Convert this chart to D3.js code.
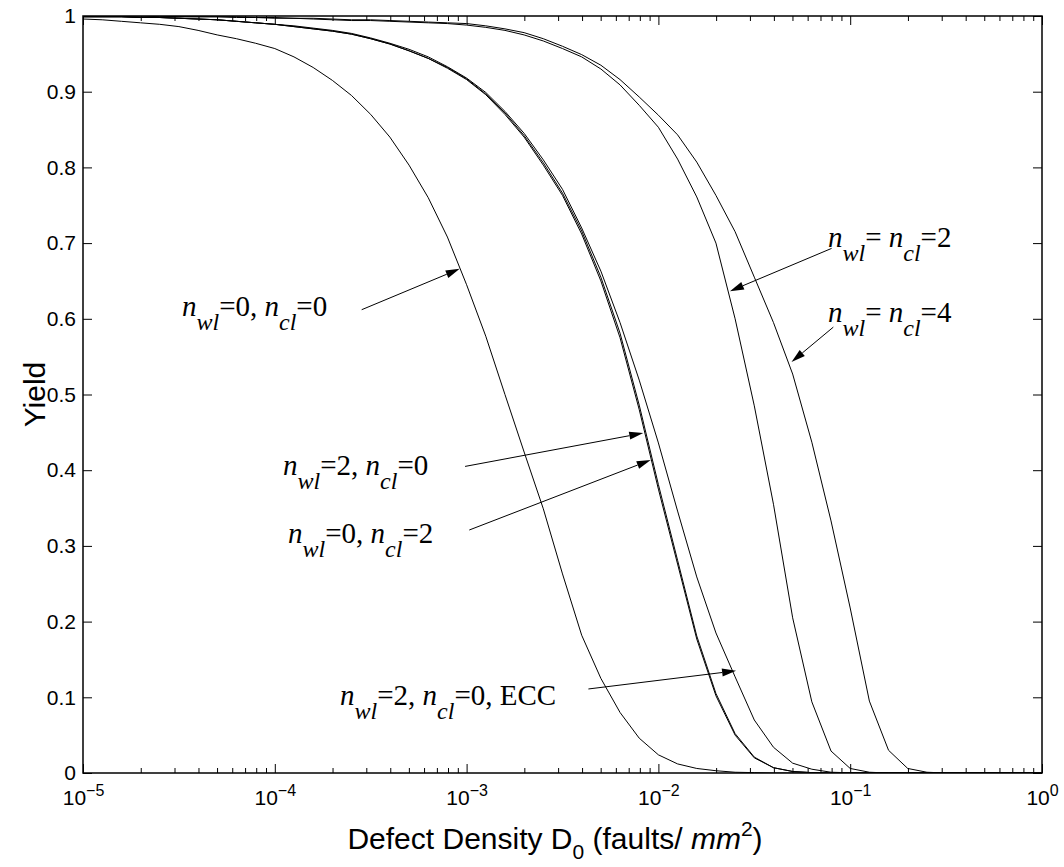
<!DOCTYPE html>
<html><head><meta charset="utf-8">
<script src="https://cdn.jsdelivr.net/npm/d3@7"></script>
<style>body{margin:0;background:#fff}svg{display:block}</style>
</head><body>
<svg id="c" width="1064" height="867"></svg>
<script>
// log10 of defect density D0 (faults/mm^2)
const logD = [-5.0,-4.9,-4.8,-4.7,-4.6,-4.5,-4.4,-4.3,-4.2,-4.1,
  -4.0,-3.9,-3.8,-3.7,-3.6,-3.5,-3.4,-3.3,-3.2,-3.1,
  -3.0,-2.9,-2.8,-2.7,-2.6,-2.5,-2.4,-2.3,-2.2,-2.1,
  -2.0,-1.9,-1.8,-1.7,-1.6,-1.5,-1.4,-1.3,-1.2,-1.1,
  -1.0,-0.9,-0.8,-0.7,-0.6,-0.5,-0.4,-0.3,-0.2,-0.1,0.0];

const yNone = [0.996,0.995,0.993,0.991,0.989,0.986,0.981,0.975,0.970,0.964,
  0.957,0.946,0.932,0.915,0.895,0.870,0.840,0.803,0.760,0.708,
  0.645,0.577,0.500,0.424,0.349,0.263,0.182,0.125,0.080,0.046,
  0.024,0.012,0.006,0.003,0.001,0.0005,0,0,0,0,
  0,0,0,0,0,0,0,0,0,0,0];

const yWl2 = [0.999,0.999,0.999,0.998,0.998,0.997,0.996,0.995,0.993,0.991,
  0.989,0.986,0.983,0.980,0.976,0.970,0.963,0.954,0.944,0.931,
  0.916,0.896,0.870,0.840,0.803,0.763,0.712,0.650,0.575,0.480,
  0.375,0.276,0.177,0.102,0.050,0.020,0.007,0.002,0.0005,0,
  0,0,0,0,0,0,0,0,0,0,0];

const yCl2 = [0.999,0.999,0.999,0.998,0.998,0.997,0.996,0.995,0.993,0.991,
  0.989,0.986,0.983,0.980,0.976,0.970,0.963,0.954,0.944,0.932,
  0.917,0.897,0.872,0.842,0.806,0.766,0.716,0.655,0.581,0.486,
  0.381,0.281,0.181,0.105,0.052,0.021,0.007,0.002,0.0005,0,
  0,0,0,0,0,0,0,0,0,0,0];

const yWl2Ecc = [0.999,0.999,0.999,0.998,0.998,0.997,0.996,0.995,0.993,0.991,
  0.989,0.987,0.984,0.981,0.977,0.971,0.964,0.956,0.946,0.933,
  0.918,0.899,0.874,0.845,0.810,0.771,0.720,0.663,0.595,0.519,
  0.436,0.346,0.259,0.185,0.127,0.070,0.034,0.013,0.005,0.001,
  0.0003,0,0,0,0,0,0,0,0,0,0];

const yBoth2 = [1.000,1.000,1.000,1.000,0.999,0.999,0.999,0.999,0.998,0.998,
  0.997,0.997,0.996,0.995,0.994,0.994,0.993,0.992,0.991,0.990,
  0.988,0.985,0.981,0.975,0.967,0.957,0.946,0.930,0.909,0.882,
  0.853,0.811,0.761,0.700,0.600,0.485,0.355,0.205,0.094,0.029,
  0.006,0.001,0,0,0,0,0,0,0,0,0];

const yBoth4 = [1.000,1.000,1.000,1.000,1.000,0.999,0.999,0.999,0.999,0.998,
  0.998,0.997,0.997,0.996,0.995,0.995,0.994,0.993,0.992,0.991,
  0.990,0.987,0.983,0.978,0.970,0.960,0.949,0.935,0.916,0.893,
  0.869,0.843,0.807,0.763,0.715,0.655,0.595,0.527,0.437,0.333,
  0.218,0.095,0.030,0.006,0.001,0,0,0,0,0,0];

const seriesList = [yNone, yWl2, yCl2, yWl2Ecc, yBoth2, yBoth4];

const xTickExp = [-5,-4,-3,-2,-1,0];
const yTicks = [0,0.1,0.2,0.3,0.4,0.5,0.6,0.7,0.8,0.9,1];

// annotations: label start (logD, yield) and arrow from -> tip (logD, yield)
const annotations = [
  {lab:[-4.484,0.604], from:[-3.547,0.612], tip:[-3.036,0.666], parts:[["n",1],["wl",1,1],["=0, "],["n",1],["cl",1,1],["=0"]]},
  {lab:[-3.957,0.394], from:[-3.008,0.405], tip:[-2.079,0.449], parts:[["n",1],["wl",1,1],["=2, "],["n",1],["cl",1,1],["=0"]]},
  {lab:[-3.931,0.304], from:[-2.986,0.321], tip:[-2.040,0.4135], parts:[["n",1],["wl",1,1],["=0, "],["n",1],["cl",1,1],["=2"]]},
  {lab:[-3.660,0.090], from:[-2.365,0.111], tip:[-1.595,0.135], parts:[["n",1],["wl",1,1],["=2, "],["n",1],["cl",1,1],["=0, ECC"]]},
  {lab:[-1.116,0.695], from:[-1.097,0.693], tip:[-1.627,0.6365], parts:[["n",1],["wl",1,1],["= "],["n",1],["cl",1,1],["=2"]]},
  {lab:[-1.116,0.596], from:[-1.088,0.589], tip:[-1.306,0.543], parts:[["n",1],["wl",1,1],["= "],["n",1],["cl",1,1],["=4"]]}
];

const L = 83, R = 1042, T = 16, B = 773;
const svg = d3.select("#c");
const x = d3.scaleLog().domain([1e-5, 1]).range([L, R]);
const y = d3.scaleLinear().domain([0, 1]).range([B, T]);
const sans = "'Liberation Sans', Arial, Helvetica, sans-serif";
const serif = "'Liberation Serif', 'Times New Roman', serif";

svg.append("defs").append("clipPath").attr("id","clip")
  .append("rect").attr("x",L).attr("y",T).attr("width",R-L).attr("height",B-T);

// curves
const line = d3.line().x((d,i)=>x(Math.pow(10, logD[i]))).y(d=>y(d));
svg.append("g").attr("clip-path","url(#clip)").selectAll("path").data(seriesList).join("path")
  .attr("d", line).attr("fill","none").attr("stroke","#000").attr("stroke-width",1);

// axes
const majors = xTickExp.map(e=>Math.pow(10,e));
const minors = [];
xTickExp.slice(0,-1).forEach(e=>{ for(let k=2;k<=9;k++) minors.push(k*Math.pow(10,e)); });

function styleAxis(g){ g.selectAll("line").attr("stroke","#000").attr("stroke-width",1); g.select(".domain").remove(); }

const bx = svg.append("g").attr("transform",`translate(0,${B})`)
  .call(d3.axisBottom(x).tickValues(majors).tickSizeInner(-9).tickSizeOuter(0).tickPadding(12).tickFormat(()=>""));
styleAxis(bx);
bx.selectAll(".tick text").each(function(d){
  const t = d3.select(this).attr("font-family",sans).attr("font-size",21).attr("fill","#000").attr("dy","0.95em").attr("text-anchor","middle");
  t.text(null);
  t.append("tspan").text("10");
  t.append("tspan").attr("font-size",16).attr("dy","-0.55em").text(Math.round(Math.log10(d))===0?"0":"\u2212"+Math.abs(Math.round(Math.log10(d))));
});
svg.append("g").attr("transform",`translate(0,${B})`)
  .call(d3.axisBottom(x).tickValues(minors).tickSizeInner(-5).tickSizeOuter(0).tickFormat(()=>"")).call(styleAxis);
svg.append("g").attr("transform",`translate(0,${T})`)
  .call(d3.axisTop(x).tickValues(majors).tickSizeInner(-9).tickSizeOuter(0).tickFormat(()=>"")).call(styleAxis);
svg.append("g").attr("transform",`translate(0,${T})`)
  .call(d3.axisTop(x).tickValues(minors).tickSizeInner(-5).tickSizeOuter(0).tickFormat(()=>"")).call(styleAxis);

const ly = svg.append("g").attr("transform",`translate(${L},0)`)
  .call(d3.axisLeft(y).tickValues(yTicks).tickSizeInner(-9).tickSizeOuter(0).tickPadding(7)
    .tickFormat(d=> d===0?"0": d===1?"1": d.toFixed(1)));
styleAxis(ly);
ly.selectAll(".tick text").attr("font-family",sans).attr("font-size",21).attr("fill","#000");
svg.append("g").attr("transform",`translate(${R},0)`)
  .call(d3.axisRight(y).tickValues(yTicks).tickSizeInner(-9).tickSizeOuter(0).tickFormat(()=>"")).call(styleAxis);

// box
svg.append("rect").attr("x",L).attr("y",T).attr("width",R-L).attr("height",B-T)
  .attr("fill","none").attr("stroke","#000").attr("stroke-width",1.5);

// axis titles
const xt = svg.append("text").attr("x",555).attr("y",849).attr("text-anchor","middle")
  .attr("font-family",sans).attr("font-size",30).attr("fill","#000").style("white-space","pre");
xt.append("tspan").text("Defect Density D");
xt.append("tspan").attr("font-size",21).attr("dy",10).text("0");
xt.append("tspan").attr("dy",-10).text(" (faults/ ");
xt.append("tspan").attr("font-style","italic").text("mm");
xt.append("tspan").attr("font-size",21).attr("dy",-13).text("2");
xt.append("tspan").attr("dy",13).text(")");

svg.append("text").attr("transform",`translate(45,${(T+B)/2}) rotate(-90)`).attr("text-anchor","middle")
  .attr("font-family",sans).attr("font-size",30).attr("fill","#000").text("Yield");

// annotations
const P = a => [x(Math.pow(10,a[0])), y(a[1])];
annotations.forEach(a=>{
  const [lx,lyv] = P(a.lab);
  const t = svg.append("text").attr("x",lx).attr("y",lyv).attr("font-family",serif)
    .attr("font-size",29).attr("fill","#000").style("white-space","pre");
  let shift = 0;
  a.parts.forEach(p=>{
    const s = t.append("tspan").text(p[0]);
    if (p[1]) s.attr("font-style","italic");
    const target = p[2] ? 14 : 0;
    if (target!==shift){ s.attr("dy", target-shift); shift = target; }
    if (p[2]) s.attr("font-size",24);
  });
  const [x1,y1] = P(a.from), [x2,y2] = P(a.tip);
  const dx = x2-x1, dy = y2-y1, len = Math.hypot(dx,dy), ux = dx/len, uy = dy/len;
  const hl = 14, hw = 4;
  const bxp = x2 - ux*hl, byp = y2 - uy*hl;
  svg.append("line").attr("x1",x1).attr("y1",y1).attr("x2",bxp).attr("y2",byp)
    .attr("stroke","#000").attr("stroke-width",1);
  svg.append("path").attr("d",`M${x2},${y2}L${bxp - uy*hw},${byp + ux*hw}L${bxp + uy*hw},${byp - ux*hw}Z`)
    .attr("fill","#000");
});
</script>
</body></html>
